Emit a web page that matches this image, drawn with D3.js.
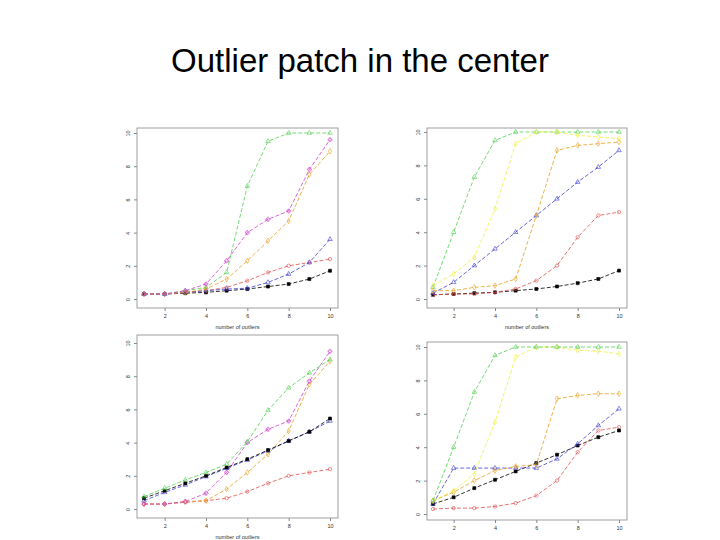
<!DOCTYPE html>
<html><head><meta charset="utf-8">
<script src="https://d3js.org/d3.v7.min.js"></script>
<style>body{margin:0;background:#fff}svg{display:block}</style>
</head><body><svg width="720" height="540"></svg>
<script>
const xValues = [1,2,3,4,5,6,7,8,9,10];
const xTicks = [2,4,6,8,10];
const yTicks = [0,2,4,6,8,10];
const xLabel = "number of outliers";
const title = "Outlier patch in the center";

const topLeft = {
  black:   [0.3,0.3,0.35,0.4,0.5,0.6,0.75,0.9,1.2,1.7],
  red:     [0.3,0.3,0.4,0.5,0.7,1.1,1.6,2.0,2.2,2.4],
  blue:    [0.3,0.3,0.4,0.5,0.6,0.65,1.0,1.5,2.2,3.6],
  green:   [0.3,0.3,0.5,0.7,1.6,6.8,9.5,10,10,10],
  orange:  [0.3,0.3,0.4,0.6,1.2,2.3,3.5,4.7,7.5,8.9],
  magenta: [0.3,0.3,0.5,0.9,2.3,4.0,4.8,5.3,7.8,9.6]
};
const topRight = {
  black:   [0.25,0.3,0.35,0.4,0.5,0.6,0.75,0.95,1.2,1.7],
  red:     [0.25,0.3,0.3,0.4,0.6,1.1,2.0,3.7,5.0,5.2],
  blue:    [0.35,1.0,2.0,3.0,4.0,5.0,6.0,7.0,7.9,8.9],
  green:   [0.7,4.0,7.3,9.5,10,10,10,10,10,10],
  orange:  [0.5,0.5,0.7,0.8,1.2,5.0,8.9,9.2,9.3,9.4],
  yellow:  [0.8,1.5,2.5,5.4,9.3,10,10,9.8,9.7,9.6]
};
const bottomLeft = {
  red:     [0.3,0.3,0.4,0.5,0.65,1.05,1.55,2.0,2.2,2.4],
  orange:  [0.3,0.3,0.45,0.5,1.2,2.2,3.3,4.7,7.5,8.9],
  magenta: [0.3,0.3,0.45,0.95,2.2,4.0,4.8,5.3,7.7,9.5],
  blue:    [0.5,1.0,1.45,1.95,2.45,2.95,3.5,4.1,4.65,5.3],
  black:   [0.65,1.1,1.55,2.0,2.5,3.0,3.55,4.1,4.65,5.45],
  green:   [0.75,1.25,1.75,2.2,2.7,4.05,5.95,7.3,8.2,9.0]
};
const bottomRight = {
  red:     [0.3,0.35,0.35,0.45,0.65,1.1,2.0,3.7,5.0,5.2],
  black:   [0.6,1.0,1.55,2.05,2.55,3.05,3.55,4.1,4.6,5.0],
  blue:    [0.6,2.75,2.75,2.75,2.75,2.75,3.3,4.2,5.3,6.3],
  orange:  [0.8,1.3,2.0,2.6,2.85,2.95,6.9,7.1,7.2,7.2],
  yellow:  [0.8,1.4,2.4,5.5,9.4,10,10,9.8,9.75,9.6],
  green:   [0.8,4.0,7.3,9.5,10,10,10,10,10,10]
};

const colors = {black:"#000",red:"#e05050",blue:"#4040d0",green:"#50d050",orange:"#e8a020",magenta:"#d040d0",yellow:"#f0f040"};
const symbols = {black:d3.symbolSquare,red:d3.symbolCircle,blue:d3.symbolTriangle,green:d3.symbolTriangle,orange:d3.symbolDiamond,magenta:d3.symbolCross,yellow:d3.symbolDiamond};

const svg = d3.select("svg");
svg.append("text").attr("x",360).attr("y",72).attr("text-anchor","middle")
  .attr("font-family","Liberation Sans, Arial, sans-serif").attr("font-size",33).text(title);

const panels = [
  {data:topLeft, box:[137,128,338,308], x:[144,330], y:[299,133], xlab:true},
  {data:topRight, box:[427,128,627,308], x:[433,619], y:[299,132], xlab:true},
  {data:bottomLeft, box:[137,335,338,518], x:[144,330], y:[509,343], xlab:true},
  {data:bottomRight, box:[427,342,627,520], x:[433,619], y:[514,347], xlab:false}
];

panels.forEach(p=>{
  const g = svg.append("g");
  const [x0,y0,x1,y1] = p.box;
  g.append("rect").attr("x",x0).attr("y",y0).attr("width",x1-x0).attr("height",y1-y0)
    .attr("fill","none").attr("stroke","#888").attr("stroke-width",0.8);
  const xs = d3.scaleLinear().domain([1,10]).range(p.x);
  const ys = d3.scaleLinear().domain([0,10]).range(p.y);
  const xa = g.append("g").attr("transform",`translate(0,${y1})`).call(d3.axisBottom(xs).tickValues(xTicks).tickSize(3));
  const ya = g.append("g").attr("transform",`translate(${x0},0)`).call(d3.axisLeft(ys).tickValues(yTicks).tickSize(3));
  [xa,ya].forEach(a=>{a.select(".domain").remove();a.selectAll("line").attr("stroke","#888");
    a.selectAll("text").attr("font-family","Liberation Sans, Arial").attr("font-size",5.5).attr("fill","#333");});
  ya.selectAll(".tick text").attr("x",0).attr("y",0).attr("dy",0).attr("text-anchor","middle")
    .attr("transform","translate(-7,0) rotate(-90)");
  if(p.xlab) g.append("text").attr("x",(x0+x1)/2).attr("y",y1+21).attr("text-anchor","middle")
    .attr("font-family","Liberation Sans, Arial").attr("font-size",5.5).attr("fill","#333").text(xLabel);
  const line = d3.line().x((d,i)=>xs(xValues[i])).y(d=>ys(d));
  Object.entries(p.data).forEach(([k,vals])=>{
    g.append("path").attr("d",line(vals)).attr("fill","none").attr("stroke",colors[k])
      .attr("stroke-width",0.8).attr("stroke-dasharray","4,2");
    g.selectAll(null).data(vals).join("path")
      .attr("transform",(d,i)=>`translate(${xs(xValues[i])},${ys(d)})`)
      .attr("d",d3.symbol().type(symbols[k]).size(9))
      .attr("fill",k==="black"?"#000":"none").attr("stroke",colors[k]).attr("stroke-width",0.6);
  });
});
</script></body></html>
